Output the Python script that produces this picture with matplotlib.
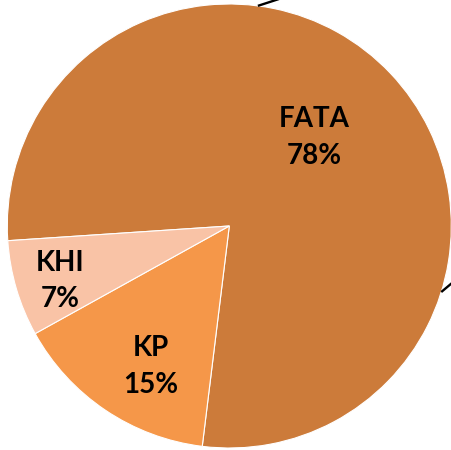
##############################################
# Pie chart: share by region
##############################################
import numpy as np
import matplotlib.pyplot as plt

##############################################
# Data
##############################################
regions = ["FATA", "KP", "KHI"]
shares = [78, 15, 7]

# label anchor points (data units, pie radius = 1)
label_x = [0.384, -0.353, -0.763]
label_y = [0.399, -0.633, -0.248]

# leader lines toward labels outside the frame (start angle on rim, direction)
leader_rim_angle = [82.6, -17.3]
leader_direction = [18, 40]

##############################################
# Style
##############################################
colors = ["#CC7B3A", "#F59749", "#F9C3A6"]
plt.rcParams['font.family'] = ['Lato', 'DejaVu Sans']

##############################################
# Plot
##############################################
fig = plt.figure(figsize=(4.51, 4.5), dpi=100)
ax = fig.add_axes([0, 0, 1, 1])

ax.pie(shares, colors=colors, startangle=183.8, counterclock=False,
       radius=1, wedgeprops=dict(edgecolor="white", linewidth=0.8))

for name, val, x, y in zip(regions, shares, label_x, label_y):
    ax.text(x, y, f"{name}\n{val}%", ha="center", va="center",
            fontsize=20, fontweight="bold", linespacing=1.5, color="black")

for a, d in zip(leader_rim_angle, leader_direction):
    x0, y0 = np.cos(np.radians(a)), np.sin(np.radians(a))
    x1 = x0 + 0.15 * np.cos(np.radians(d))
    y1 = y0 + 0.15 * np.sin(np.radians(d))
    ax.plot([x0, x1], [y0, y1], color="black", lw=1.7, solid_capstyle="butt")

ax.set_xlim(-229.3 / 222, (451 - 229.3) / 222)
ax.set_ylim((226 - 450) / 222, 226 / 222)
ax.set_aspect("auto")
ax.axis("off")

fig.savefig("out.png", dpi=100)
